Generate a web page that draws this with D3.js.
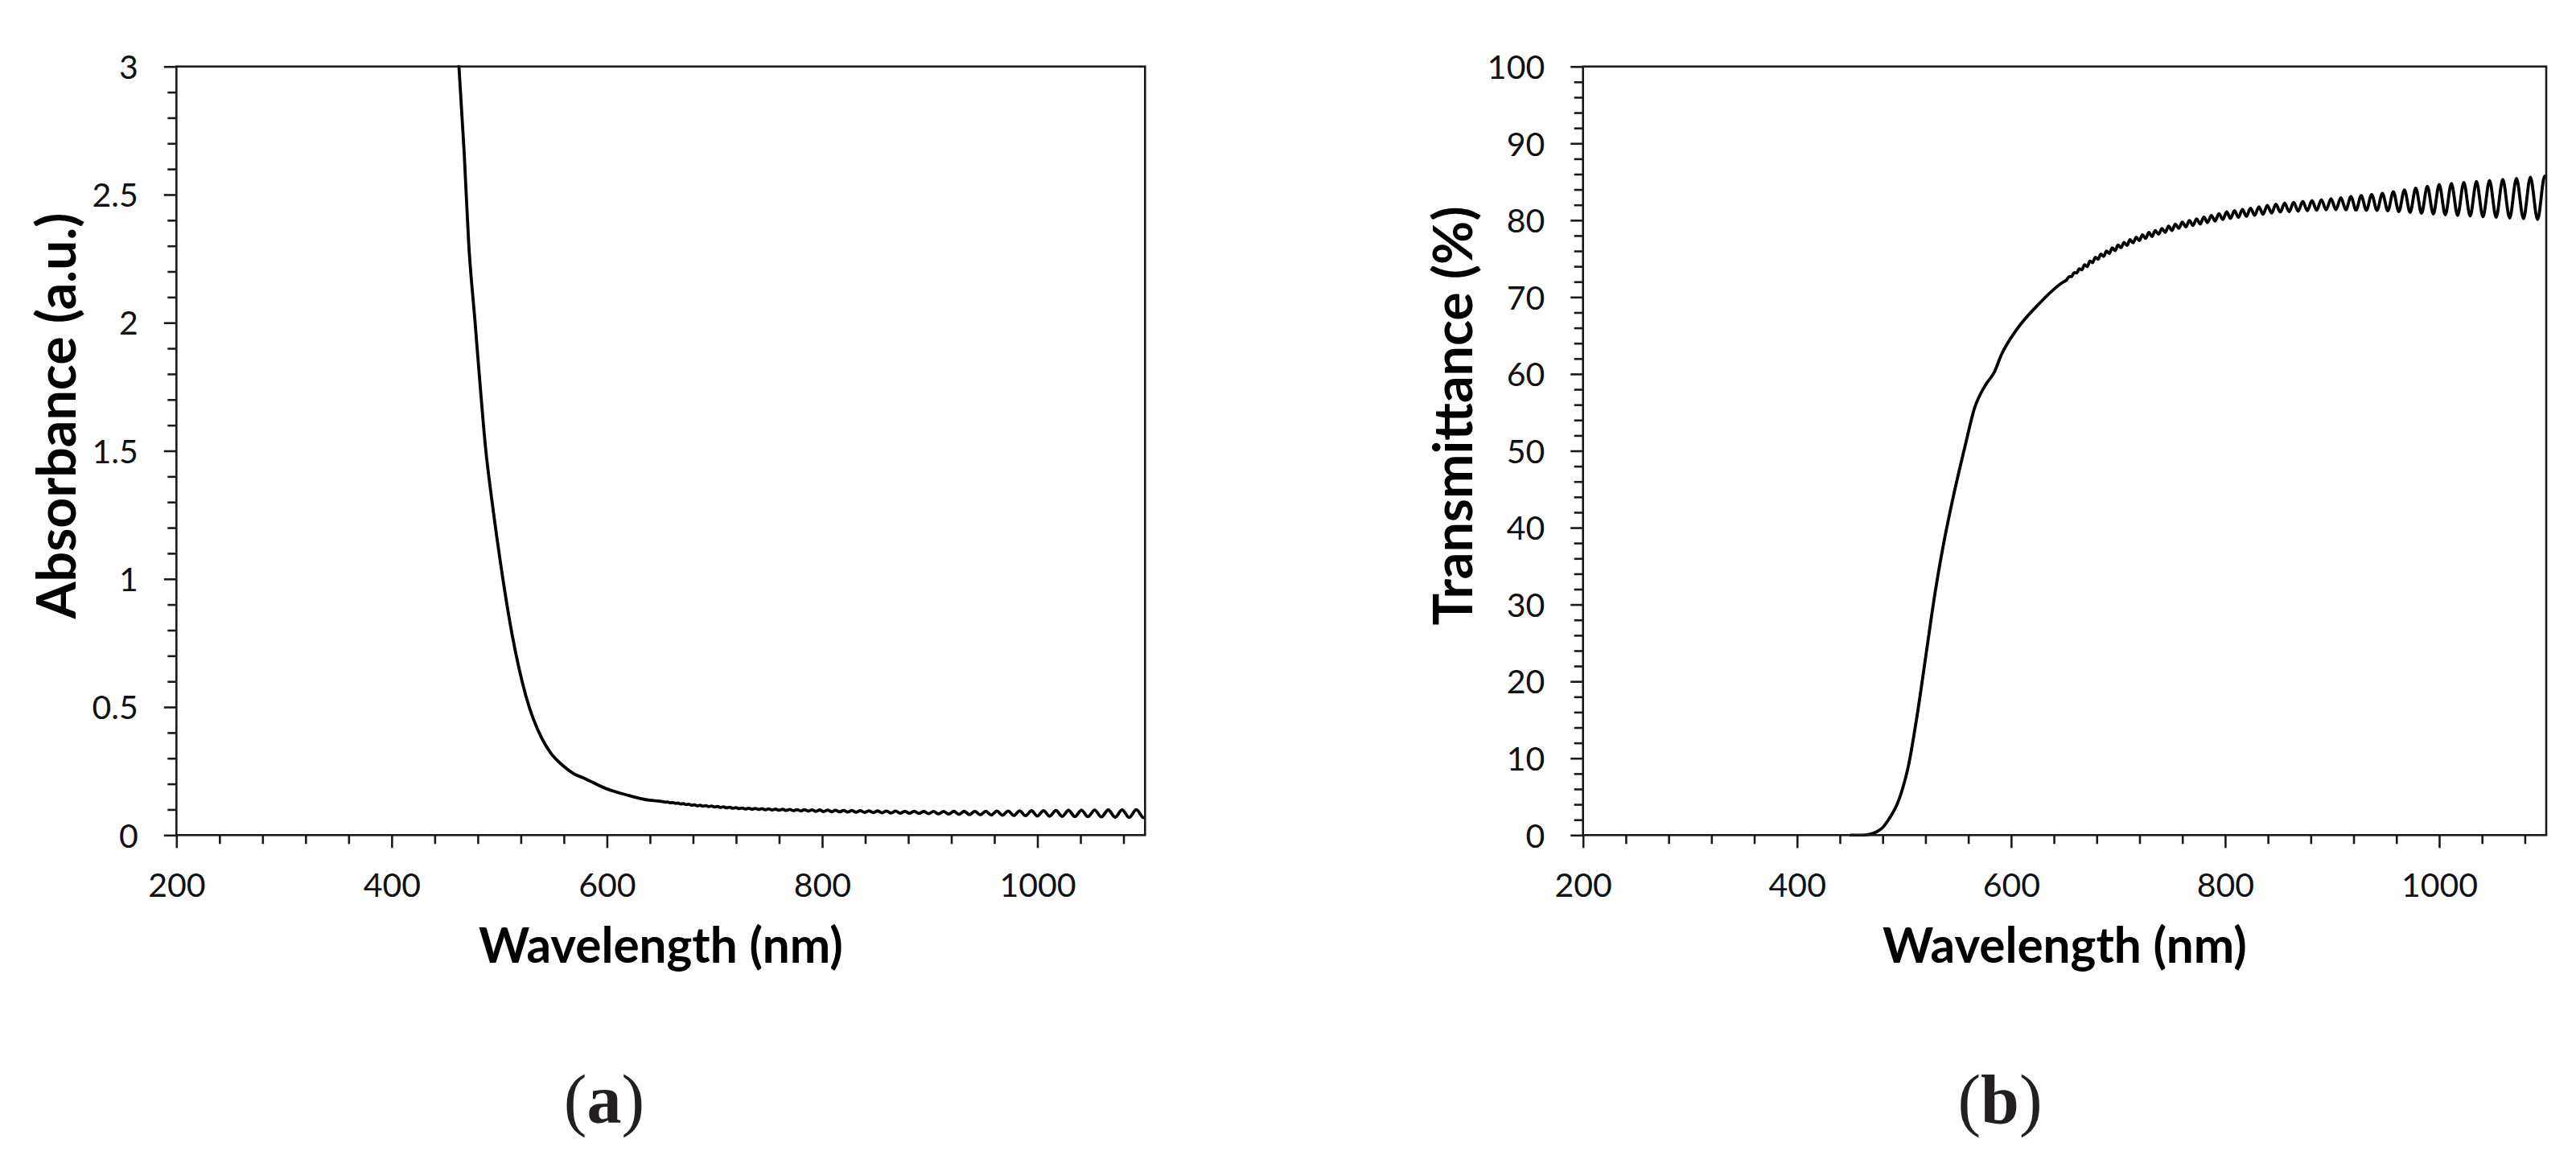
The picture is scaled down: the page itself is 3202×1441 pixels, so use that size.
<!DOCTYPE html>
<html><head><meta charset="utf-8">
<script src="https://cdn.jsdelivr.net/npm/d3@7/dist/d3.min.js"></script>
<style>
html,body{margin:0;padding:0;background:#fff;}
svg{display:block;}
</style></head><body>
<svg id="chart" width="3202" height="1441"></svg>
<script>
// ---------- data ----------
const xTickValues = [200, 400, 600, 800, 1000];
const xTickLabels = ["200", "400", "600", "800", "1000"];

const absTickValues = [0, 0.5, 1, 1.5, 2, 2.5, 3];
const absTickLabels = ["0", "0.5", "1", "1.5", "2", "2.5", "3"];
const transTickValues = [0, 10, 20, 30, 40, 50, 60, 70, 80, 90, 100];
const transTickLabels = ["0", "10", "20", "30", "40", "50", "60", "70", "80", "90", "100"];

// absorbance, smooth part (nm, a.u.)
const absWavelength = [462.5, 467.3, 471.6, 477.4, 481.6, 487.4, 493.2, 501.8, 511.9, 524.8, 539.1, 547.7, 559.2, 569.0, 579.4, 599.5, 620.0, 639.6];
const absValues     = [3.0, 2.669, 2.308, 2.007, 1.786, 1.505, 1.304, 1.043, 0.783, 0.542, 0.381, 0.321, 0.271, 0.240, 0.221, 0.181, 0.155, 0.136];

// transmittance, smooth part (nm, %)
const transWavelength = [450, 460, 468.3, 474, 480.1, 486.8, 493.5, 498.5, 503.6, 512, 520.4, 528.8, 537.2, 547.2, 557.3, 565.7, 575.8, 584.2, 590.9, 604.3, 624.5, 648];
const transValues     = [0, 0, 0.13, 0.4, 1.0, 2.3, 4.0, 6.0, 8.7, 15.4, 23.4, 31.4, 38.1, 44.8, 50.8, 55.5, 58.5, 60.2, 62.5, 65.6, 68.9, 71.9];

// interference-fringe region: extrema positions (nm)
const fringeWavelength = [651.8,654.1,656.5,658.9,661.3,663.7,666.1,668.6,671.1,673.6,
  676.1,678.7,681.3,683.9,686.5,689.1,691.8,694.5,697.2,699.9,
  702.7,705.5,708.3,711.1,714.0,716.9,719.8,722.7,725.7,728.7,
  731.7,734.7,737.8,740.9,744.0,747.1,750.3,753.5,756.7,
  760.0,763.3,766.6,769.9,773.3,776.7,780.1,783.6,787.1,790.6,794.2,797.8,
  801.4,805.0,808.7,812.4,816.1,819.9,823.7,827.6,831.5,835.4,
  839.4,843.4,847.4,851.5,855.6,859.8,864.0,868.2,872.5,876.8,
  881.1,885.5,889.9,894.4,898.9,903.5,908.1,912.8,917.5,922.3,
  927.1,932.0,936.9,941.9,946.9,952.0,957.1,962.3,967.5,972.8,
  978.1,983.5,988.9,994.5,1000.0,1005.7,1011.4,1017.2,1023.0,1028.9,
  1034.8,1040.9,1047.0,1053.2,1059.4,1065.8,1072.2,1078.7,1085.2,1091.9,
  1098.6,1100.0];
const absFringe = [0.1310,0.1287,0.1290,0.1263,0.1268,0.1240,0.1249,0.1213,0.1227,0.1190,
  0.1204,0.1165,0.1181,0.1143,0.1164,0.1127,0.1150,0.1112,0.1135,0.1096,
  0.1120,0.1080,0.1106,0.1064,0.1090,0.1048,0.1074,0.1032,0.1058,0.1018,
  0.1049,0.1009,0.1041,0.1000,0.1032,0.0991,0.1024,0.0982,0.1014,
  0.0970,0.1008,0.0961,0.1002,0.0954,0.0997,0.0945,0.0992,0.0936,0.0987,0.0927,0.0982,
  0.0919,0.0976,0.0912,0.0971,0.0905,0.0966,0.0899,0.0961,0.0892,0.0956,
  0.0884,0.0949,0.0877,0.0944,0.0871,0.0941,0.0864,0.0938,0.0857,0.0934,
  0.0850,0.0931,0.0843,0.0927,0.0836,0.0926,0.0828,0.0926,0.0819,0.0927,
  0.0810,0.0928,0.0802,0.0929,0.0793,0.0931,0.0784,0.0937,0.0775,0.0941,
  0.0764,0.0947,0.0755,0.0952,0.0745,0.0957,0.0738,0.0962,0.0731,0.0967,
  0.0724,0.0971,0.0717,0.0977,0.0709,0.0983,0.0699,0.0989,0.0690,0.0996,
  0.0681,0.0690];
const transFringe = [72.22,72.65,72.68,73.19,73.14,73.68,73.55,74.22,73.97,74.68,
  74.47,75.19,74.91,75.59,75.30,76.00,75.69,76.41,76.04,76.77,
  76.43,77.12,76.72,77.48,77.06,77.79,77.36,78.10,77.65,78.41,
  77.89,78.67,78.18,78.92,78.42,79.23,78.66,79.49,78.95,
  79.75,79.14,79.97,79.32,80.18,79.51,80.40,79.70,80.63,79.89,80.86,80.09,
  81.08,80.24,81.24,80.37,81.40,80.51,81.57,80.65,81.74,80.79,
  81.92,80.93,82.09,81.06,82.22,81.12,82.33,81.18,82.44,81.24,
  82.55,81.30,82.67,81.36,82.79,81.39,82.92,81.36,83.07,81.33,
  83.20,81.30,83.35,81.27,83.50,81.23,83.70,81.12,83.94,81.03,
  84.17,80.91,84.40,80.81,84.65,80.71,84.77,80.63,84.91,80.55,
  85.03,80.46,85.16,80.38,85.30,80.29,85.44,80.20,85.59,80.10,
  85.74,85.60];

const xTitle = "Wavelength (nm)";
const absTitle = "Absorbance (a.u.)";
const transTitle = "Transmittance (%)";
const panelLabels = ["a", "b"];

// ---------- drawing ----------
const svg = d3.select("#chart");
svg.append("rect").attr("width", 3202).attr("height", 1441).attr("fill", "#fff");

const TOP = 82.7, BOTTOM = 1038.3;
const AXIS_COLOR = "#1a1a1a";
const LABEL_FONT = "Lato, 'Open Sans', 'DejaVu Sans', sans-serif";

const panels = [
  { left: 219.3, right: 1423.3, domain: [0, 3], ticks: absTickValues, labels: absTickLabels,
    minor: d3.range(0, 3.0001, 0.1).filter(v => Math.abs(v * 2 - Math.round(v * 2)) > 1e-6),
    data: absWavelength.map((w, i) => [w, absValues[i]]).concat(fringeWavelength.map((w, i) => [w, absFringe[i]])),
    title: absTitle, titleX: 94, label: panelLabels[0], labelX: 751 },
  { left: 1967.7, right: 3165, domain: [0, 100], ticks: transTickValues, labels: transTickLabels,
    minor: d3.range(0, 100.001, 2).filter(v => v % 10 !== 0),
    data: transWavelength.map((w, i) => [w, transValues[i]]).concat(fringeWavelength.map((w, i) => [w, transFringe[i]])),
    title: transTitle, titleX: 1830, label: panelLabels[1], labelX: 2486 }
];

const xMinor = d3.range(240, 1081, 40).filter(v => v % 200 !== 0);

// fit a bold title to a target length
function fitSize(text, target) {
  const probe = svg.append("text").attr("font-family", LABEL_FONT).attr("font-weight", "bold")
    .attr("font-size", 60).text(text);
  const len = probe.node().getComputedTextLength();
  probe.remove();
  return 60 * target / len;
}
const titleSize = fitSize(xTitle, 453);

panels.forEach((p, idx) => {
  const g = svg.append("g");
  const x = d3.scaleLinear().domain([200, 1100]).range([p.left, p.right]);
  const y = d3.scaleLinear().domain(p.domain).range([BOTTOM, TOP]);

  const clipId = "clip" + idx;
  svg.append("clipPath").attr("id", clipId).append("rect")
    .attr("x", p.left).attr("y", TOP - 2).attr("width", p.right - p.left).attr("height", BOTTOM - TOP + 4);

  // data line
  const line = d3.line().x(d => x(d[0])).y(d => y(d[1])).curve(d3.curveMonotoneX);
  g.append("path").datum(p.data).attr("d", line).attr("clip-path", `url(#${clipId})`)
    .attr("fill", "none").attr("stroke", "#000").attr("stroke-width", 3.8)
    .attr("stroke-linejoin", "round").attr("stroke-linecap", "round");

  // y minor ticks
  const yMinorAxis = g.append("g").attr("transform", `translate(${p.left},0)`)
    .call(d3.axisLeft(y).tickValues(p.minor).tickSize(11).tickSizeOuter(0).tickFormat(""));
  // y major ticks
  const yAxis = g.append("g").attr("transform", `translate(${p.left},0)`)
    .call(d3.axisLeft(y).tickValues(p.ticks).tickSize(15.5).tickSizeOuter(0).tickPadding(32)
      .tickFormat((d, i) => p.labels[i]));
  // x minor ticks
  const xMinorAxis = g.append("g").attr("transform", `translate(0,${BOTTOM})`)
    .call(d3.axisBottom(x).tickValues(xMinor).tickSize(11).tickSizeOuter(0).tickFormat(""));
  // x major ticks
  const xAxis = g.append("g").attr("transform", `translate(0,${BOTTOM})`)
    .call(d3.axisBottom(x).tickValues(xTickValues).tickSize(16).tickSizeOuter(0)
      .tickFormat((d, i) => xTickLabels[i]));

  [yMinorAxis, yAxis, xMinorAxis, xAxis].forEach(a => {
    a.select(".domain").remove();
    a.selectAll("line").attr("stroke", AXIS_COLOR).attr("stroke-width", 2.6);
    a.selectAll("text").attr("font-family", LABEL_FONT).attr("font-size", 41).attr("fill", "#111");
  });
  yAxis.selectAll("text").attr("dy", "0.36em");
  xAxis.selectAll("text").attr("y", 1115 - BOTTOM).attr("dy", null);

  // frame
  g.append("rect").attr("x", p.left).attr("y", TOP).attr("width", p.right - p.left).attr("height", BOTTOM - TOP)
    .attr("fill", "none").attr("stroke", AXIS_COLOR).attr("stroke-width", 2.6);

  // titles
  g.append("text").attr("x", (p.left + p.right) / 2).attr("y", 1197).attr("text-anchor", "middle")
    .attr("font-family", LABEL_FONT).attr("font-weight", "bold").attr("font-size", titleSize)
    .attr("fill", "#000").text(xTitle);
  const ySize = Math.min(fitSize(p.title, 545), titleSize * 1.1);
  g.append("text").attr("transform", `translate(${p.titleX},517) rotate(-90)`).attr("text-anchor", "middle")
    .attr("font-family", LABEL_FONT).attr("font-weight", "bold").attr("font-size", ySize)
    .attr("fill", "#000").text(p.title);

  // sub-figure label
  const lab = g.append("text").attr("x", p.labelX).attr("y", 1396).attr("text-anchor", "middle")
    .attr("font-family", "'Liberation Serif', 'DejaVu Serif', serif").attr("font-size", 86).attr("fill", "#231f20");
  lab.append("tspan").text("(");
  lab.append("tspan").attr("font-weight", "bold").text(p.label);
  lab.append("tspan").text(")");
});
</script>
</body></html>
